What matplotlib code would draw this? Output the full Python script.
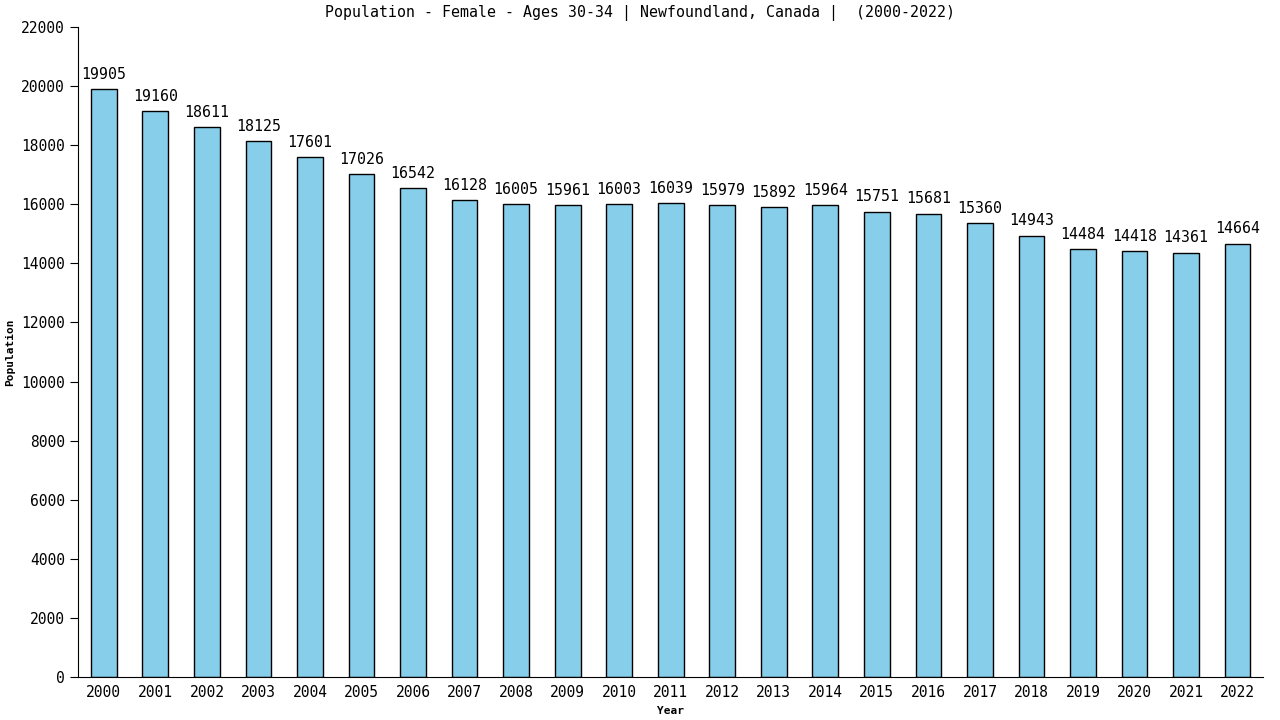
import matplotlib.pyplot as plt
import numpy as np

plt.rcParams['font.family'] = ['DejaVu Sans Mono']

years = [str(y) for y in range(2000, 2023)]
population = [19905, 19160, 18611, 18125, 17601, 17026, 16542, 16128, 16005, 15961,
              16003, 16039, 15979, 15892, 15964, 15751, 15681, 15360, 14943, 14484,
              14418, 14361, 14664]

fig = plt.figure(figsize=(12.8, 7.2), dpi=100)
ax = fig.add_axes([0.061, 0.0597, 0.926, 0.9028])
x = np.arange(len(years))
ax.bar(x, population, width=0.5, color='#87CEEB', edgecolor='black', linewidth=1)
for xi, v in zip(x, population):
    ax.text(xi, v + 250, str(v), ha='center', va='bottom', fontsize=10.7)

ax.set_xlim(-0.5, len(years) - 0.5)
ax.set_ylim(0, 22000)
ax.set_yticks(np.arange(0, 22001, 2000))
ax.set_xticks(x)
ax.set_xticklabels(years, fontsize=10.5)
ax.tick_params(axis='x', length=0, pad=6)
ax.tick_params(axis='y', length=6, labelsize=10.5)
for s in ['top', 'right']:
    ax.spines[s].set_visible(False)
fig.text(0.5, 0.982, 'Population - Female - Ages 30-34 | Newfoundland, Canada |  (2000-2022)',
         ha='center', va='center', fontsize=10.7)
ax.set_ylabel('Population', fontsize=8, fontweight='bold')
ax.set_xlabel('Year', fontsize=8, fontweight='bold', labelpad=4)

fig.savefig('out.png', dpi=100)
